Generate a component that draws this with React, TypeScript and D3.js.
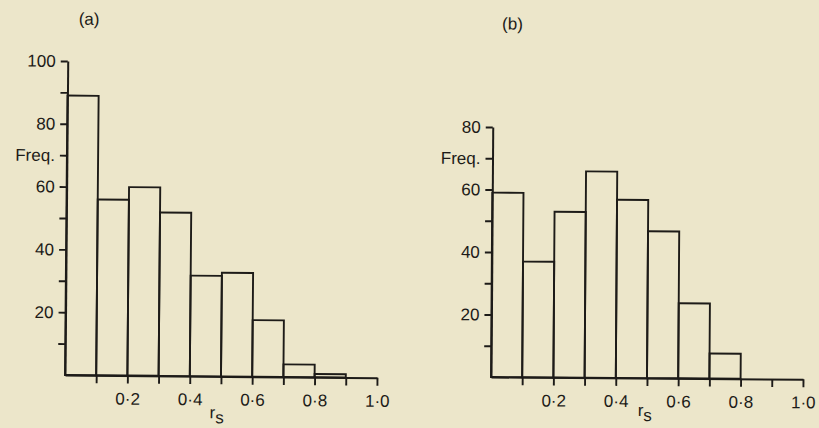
import { useEffect, useRef } from "react";
import * as d3 from "d3";

// bin edges for r_s, 0.1 wide
const binStarts = [0, 0.1, 0.2, 0.3, 0.4, 0.5, 0.6, 0.7, 0.8, 0.9];
const binWidth = 0.1;

// frequencies
const freqA = [89, 56, 60, 52, 32, 33, 18, 4, 1, 0];
const freqB = [59, 37, 53, 66, 57, 47, 24, 8, 0, 0];

const xTicks = [0.1, 0.2, 0.3, 0.4, 0.5, 0.6, 0.7, 0.8, 0.9, 1.0];
const xLabelled = [0.2, 0.4, 0.6, 0.8, 1.0];
const yTicksA = [10, 20, 30, 40, 50, 60, 70, 80, 90, 100];
const yTicksB = [10, 20, 30, 40, 50, 60, 70, 80];
const yLabelsA: Record<number, string> = { 100: "100", 80: "80", 70: "Freq.", 60: "60", 40: "40", 20: "20" };
const yLabelsB: Record<number, string> = { 80: "80", 70: "Freq.", 60: "60", 40: "40", 20: "20" };

const ink = "#1d1b18";
const paper = "#ece6ca";
const font = "'Liberation Sans', Arial, sans-serif";

const panels = [
  { key: "a", title: "(a)", freq: freqA, yMax: 100, yTicks: yTicksA, yLabels: yLabelsA,
    ox: 65, oy: 375, w: 312, h: 314, rot: 0.5, titleDx: 21, titleDy: -355, rsDx: -4, rsDy: 42 },
  { key: "b", title: "(b)", freq: freqB, yMax: 80, yTicks: yTicksB, yLabels: yLabelsB,
    ox: 491, oy: 377, w: 312, h: 250, rot: 0.4, titleDx: 19, titleDy: -352, rsDx: -2, rsDy: 38 },
];

export default function App() {
  const svgRef = useRef<SVGSVGElement>(null);

  useEffect(() => {
    const svg = d3.select(svgRef.current);
    svg.selectAll("*").remove();

    svg.append("rect").attr("width", 819).attr("height", 428).attr("fill", paper);

    panels.forEach((p) => {
      const x = d3.scaleLinear().domain([0, 1]).range([0, p.w]);
      const y = d3.scaleLinear().domain([0, p.yMax]).range([0, -p.h]);

      const g = svg
        .append("g")
        .attr("transform", `translate(${p.ox},${p.oy}) rotate(${p.rot})`)
        .attr("font-family", font)
        .attr("font-size", 17)
        .attr("fill", ink);

      // bars
      g.selectAll("rect.bar")
        .data(binStarts.map((s, i) => ({ s, v: p.freq[i] })).filter((d) => d.v > 0))
        .join("rect")
        .attr("class", "bar")
        .attr("x", (d) => x(d.s))
        .attr("y", (d) => y(d.v))
        .attr("width", (d) => x(d.s + binWidth) - x(d.s))
        .attr("height", (d) => -y(d.v))
        .attr("fill", "none")
        .attr("stroke", ink)
        .attr("stroke-width", 1.9);

      // x axis
      const xAxis = d3
        .axisBottom(x)
        .tickValues(xTicks)
        .tickSize(8)
        .tickSizeOuter(0)
        .tickPadding(9)
        .tickFormat((d) => {
          const v = +d;
          return xLabelled.some((l) => Math.abs(l - v) < 1e-9) ? d3.format(".1f")(v).replace(".", "·") : "";
        });
      const gx = g.append("g").call(xAxis);

      // y axis
      const yAxis = d3
        .axisLeft(y)
        .tickValues(p.yTicks)
        .tickSize(7)
        .tickSizeOuter(0)
        .tickPadding(5)
        .tickFormat((d) => p.yLabels[+d] ?? "");
      const gy = g.append("g").call(yAxis);

      [gx, gy].forEach((ax) => {
        ax.attr("font-family", font).attr("font-size", 17);
        ax.selectAll("path.domain").attr("stroke", ink).attr("stroke-width", 2);
        ax.selectAll("line").attr("stroke", ink).attr("stroke-width", 1.9);
        ax.selectAll("text").attr("fill", ink);
      });

      // panel title
      g.append("text")
        .attr("x", p.titleDx)
        .attr("y", p.titleDy)
        .attr("text-anchor", "middle")
        .attr("dominant-baseline", "middle")
        .text(p.title);

      // r_s label
      const rs = g
        .append("text")
        .attr("x", x(0.5) + p.rsDx)
        .attr("y", p.rsDy)
        .attr("text-anchor", "middle");
      rs.append("tspan").text("r");
      rs.append("tspan").attr("dy", 5).text("s");
    });
  }, []);

  return (
    <svg
      ref={svgRef}
      width={819}
      height={428}
      style={{ position: "absolute", left: 0, top: 0 }}
    />
  );
}
